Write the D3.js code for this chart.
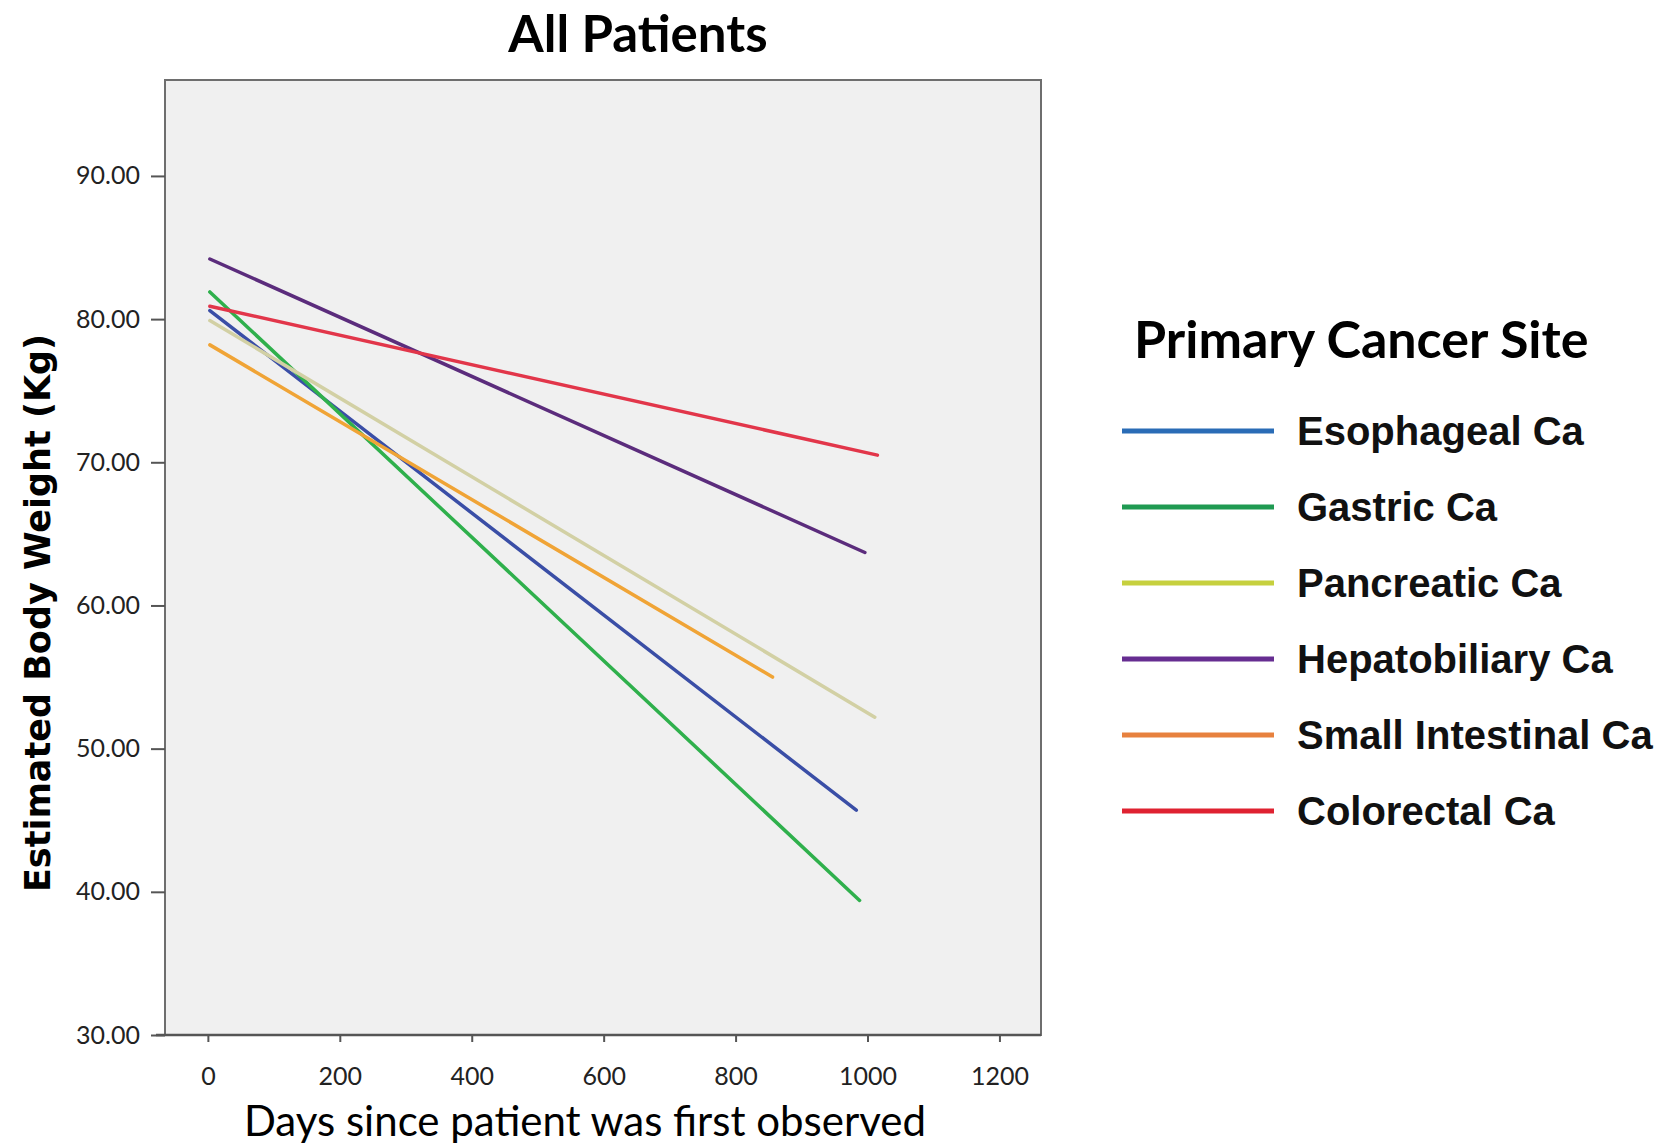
<!DOCTYPE html>
<html>
<head>
<meta charset="utf-8">
<script src="https://cdn.jsdelivr.net/npm/d3@7"></script>
<style>
  body { margin: 0; background: #fff; }
  svg { display: block; }
</style>
</head>
<body>
<div class="chart"></div>
<script>
// fitted lines, one start and one end point per site
var sites = ['Esophageal Ca', 'Gastric Ca', 'Pancreatic Ca', 'Hepatobiliary Ca', 'Small Intestinal Ca', 'Colorectal Ca'];
var startDays = [3, 3, 3, 3, 3, 3];
var startWeight = [80.6, 81.9, 79.9, 84.2, 78.2, 80.9];
var endDays = [983, 988, 1011, 996, 856, 1015];
var endWeight = [45.7, 39.4, 52.2, 63.7, 55.0, 70.5];

var xTicks = [0, 200, 400, 600, 800, 1000, 1200];
var yTicks = [30, 40, 50, 60, 70, 80, 90];

var lineColors = ['#3a4ea6', '#2fb04c', '#d2d0a4', '#5b2c7c', '#f0a436', '#e2364a'];
var legendColors = ['#2a6cb6', '#1f9a52', '#c6d03e', '#662d91', '#e7813e', '#df2231'];

var W = 1657, H = 1146;
var plot = {left: 165, right: 1041, top: 80, bottom: 1035};

var svg = d3.select('.chart')
  .append('svg')
    .attr('width', W)
    .attr('height', H);

var x = d3.scaleLinear().domain([-65, 1263]).range([plot.left, plot.right]);
var y = d3.scaleLinear().domain([30, 96.7]).range([plot.bottom, plot.top]);

// plot background + frame
svg.append('rect')
  .attr('x', plot.left).attr('y', plot.top)
  .attr('width', plot.right - plot.left).attr('height', plot.bottom - plot.top)
  .attr('fill', '#f0f0f0')
  .attr('stroke', '#6e6e6e')
  .attr('stroke-width', 2);

// axes
var yAxis = svg.append('g')
  .attr('transform', `translate(${plot.left}, 0)`)
  .call(d3.axisLeft(y).tickValues(yTicks).tickSize(14).tickPadding(11).tickFormat(d3.format('.2f')));

var xAxis = svg.append('g')
  .attr('transform', `translate(0, ${plot.bottom})`)
  .call(d3.axisBottom(x).tickValues(xTicks).tickSize(7).tickPadding(25).tickFormat(d3.format('d')));

svg.selectAll('.domain').remove();
svg.selectAll('.tick line').attr('stroke', '#555').attr('stroke-width', 2);
svg.selectAll('.tick text')
  .attr('fill', '#222')
  .style('font-family', 'Lato, sans-serif')
  .style('font-size', '25px');

// x axis line sticks out a bit on the left, like SPSS
svg.append('line')
  .attr('x1', 156).attr('x2', plot.right)
  .attr('y1', plot.bottom).attr('y2', plot.bottom)
  .attr('stroke', '#555').attr('stroke-width', 2.5);

// regression lines
var lines = sites.map(function(s, i) {
  return {name: s, pts: [[startDays[i], startWeight[i]], [endDays[i], endWeight[i]]], color: lineColors[i]};
});

var line = d3.line().x(d => x(d[0])).y(d => y(d[1]));

svg.append('g').selectAll('path')
  .data(lines)
  .enter()
  .append('path')
    .attr('d', d => line(d.pts))
    .attr('fill', 'none')
    .attr('stroke', d => d.color)
    .attr('stroke-width', 3.5)
    .attr('stroke-linecap', 'round');

// titles
svg.append('text')
  .attr('x', 638).attr('y', 52)
  .attr('text-anchor', 'middle')
  .style('font-family', 'Lato, sans-serif')
  .style('font-weight', 'bold')
  .style('font-size', '51px')
  .text('All Patients');

svg.append('text')
  .attr('text-anchor', 'middle')
  .attr('transform', `translate(50, 613) rotate(-90)`)
  .style('font-family', '"DejaVu Sans", sans-serif')
  .style('font-weight', 'bold')
  .style('font-size', '35px')
  .text('Estimated Body Weight (Kg)');

svg.append('text')
  .attr('x', 585).attr('y', 1136)
  .attr('text-anchor', 'middle')
  .style('font-family', 'Lato, sans-serif')
  .style('font-size', '42px')
  .text('Days since patient was first observed');

// legend
var legend = svg.append('g');

legend.append('text')
  .attr('x', 1134).attr('y', 358)
  .style('font-family', 'Lato, sans-serif')
  .style('font-weight', 'bold')
  .style('font-size', '52px')
  .text('Primary Cancer Site');

var item = legend.selectAll('g.item')
  .data(sites)
  .enter()
  .append('g')
    .attr('class', 'item')
    .attr('transform', (d, i) => `translate(0, ${431 + i * 76})`);

item.append('line')
  .attr('x1', 1122).attr('x2', 1274)
  .attr('stroke', (d, i) => legendColors[i])
  .attr('stroke-width', 5);

item.append('text')
  .attr('x', 1297).attr('dy', '0.36em')
  .style('font-family', '"Liberation Sans", Arial, sans-serif')
  .style('font-weight', 'bold')
  .style('font-size', '40px')
  .attr('fill', '#111')
  .text(d => d);
</script>
</body>
</html>
